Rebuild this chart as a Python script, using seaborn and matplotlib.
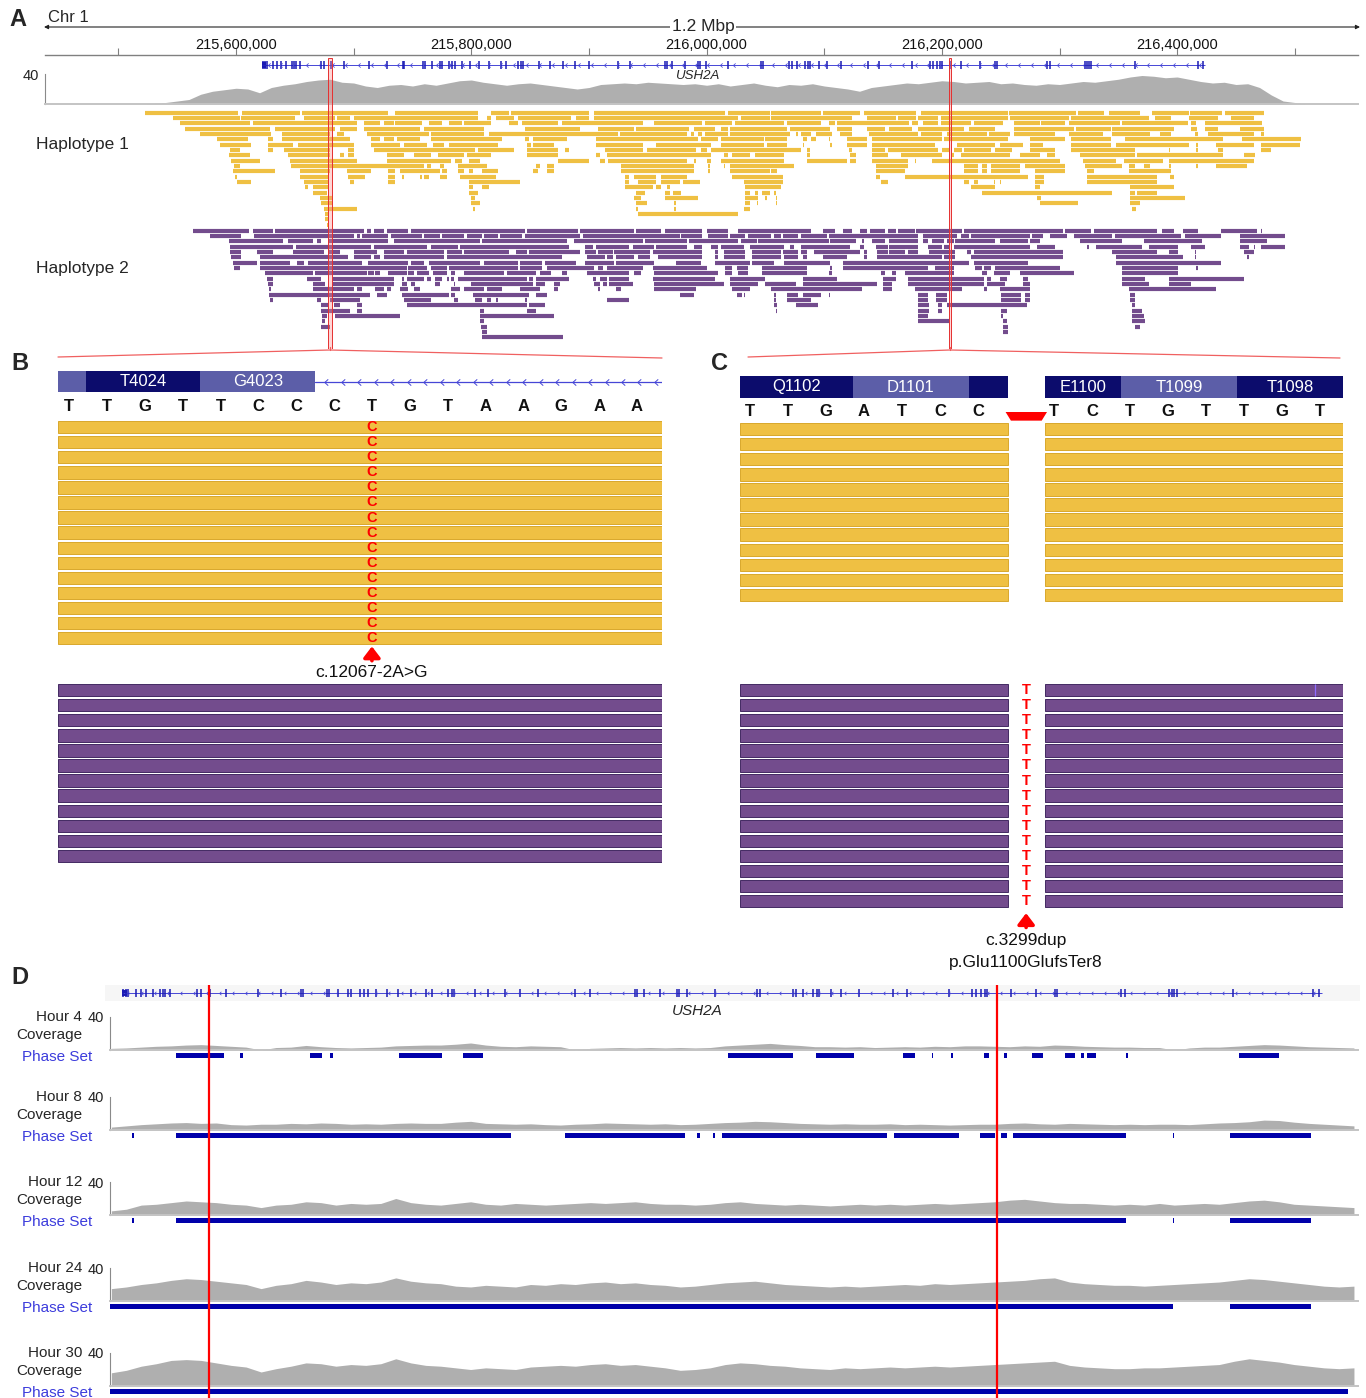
import numpy as np
import pandas as pd
import matplotlib
matplotlib.use("Agg")
import matplotlib.pyplot as plt
import seaborn as sns

sns.set_style("white")
plt.rcParams["font.family"] = ["Liberation Sans", "DejaVu Sans"]

# ---------------------------------------------------------------------------
# Genomic data: all positions are kb past chr1:215,000,000
# ---------------------------------------------------------------------------
ORIGIN_BP = 215_000_000
CHROM_LABEL = "Chr 1"
SPAN_LABEL = "1.2 Mbp"
GENE_NAME = "USH2A"

VIEW_A_KB = (437.6, 1553.7)
VIEW_D_KB = (614.1, 1447.7)
RULER_TICKS_KB = [500, 600, 700, 800, 900, 1000, 1100, 1200, 1300, 1400, 1500]
RULER_LABEL_KB = [600, 800, 1000, 1200, 1400]

GENE_KB = (622.1, 1423.6)
EXON_KB = [623.0, 624.7, 626.4, 631.5, 634.9, 638.3, 642.5, 647.6, 649.3, 651.0,
           654.4, 672.3, 674.8, 680.8, 691.8, 713.0, 728.4, 742.0, 742.8, 759.0,
           760.7, 766.6, 773.4, 775.1, 781.1, 783.6, 786.2, 792.1, 798.9, 806.6,
           815.0, 825.3, 829.5, 839.7, 842.3, 844.0, 857.6, 866.9, 878.0, 888.2,
           900.1, 924.7, 934.9, 964.7, 966.4, 970.6, 981.7, 992.7, 994.4, 999.5,
           1018.2, 1046.3, 1048.0, 1070.1, 1072.6, 1076.9, 1083.7, 1086.2, 1087.9,
           1095.6, 1102.4, 1114.3, 1137.2, 1146.6, 1174.6, 1189.9, 1192.5, 1195.9,
           1198.4, 1200.1, 1206.9, 1216.2, 1232.4, 1245.2, 1246.9, 1289.4, 1291.9,
           1321.7, 1323.4, 1325.1, 1326.8, 1364.2, 1417.7, 1421.9]

VARIANT_KB = [679.9, 1206.9]
ROI_KB = [(678.2, 681.6), (1206.1, 1207.8)]

# Read depth in panel A (10 kb bins)
COV_A_KB = list(range(500, 1520, 10))
COV_A = [0, 0, 0, 1, 2, 4, 6, 13, 17, 19,
         21, 20, 15, 22, 25, 27, 30, 32, 33, 29,
         28, 24, 22, 25, 26, 24, 27, 25, 28, 31,
         32, 29, 27, 25, 27, 28, 26, 24, 22, 20,
         22, 26, 27, 28, 27, 29, 28, 27, 26, 27,
         25, 27, 24, 26, 28, 25, 23, 26, 25, 27,
         24, 22, 20, 17, 22, 24, 26, 28, 27, 29,
         31, 30, 28, 29, 30, 27, 28, 26, 25, 27,
         26, 28, 30, 29, 31, 33, 36, 38, 37, 35,
         36, 33, 30, 28, 29, 26, 27, 22, 12, 4,
         2, 0]

# Haplotype-tagged reads, packed into rows: (start_kb, end_kb)
HAP1_READS = [
    [(523,602),(605,654),(656,729),(735,806),(817,832),(834,900),(904,1016),(1018,1054),(1055,1097),(1099,1130),(1134,1178),(1182,1256),(1257,1314),(1316,1338),(1342,1368),(1379,1410),(1411,1438),(1441,1474)],
    [(546,603),(604,650),(658,684),(686,697),(700,806),(813,817),(821,836),(840,885),(889,900),(904,1027),(1029,1054),(1055,1124),(1136,1161),(1163,1178),(1180,1197),(1199,1256),(1258,1308),(1310,1376),(1381,1395),(1410,1435),(1446,1465)],
    [(552,612),(614,703),(709,722),(726,734),(735,758),(764,775),(781,792),(794,817),(832,840),(843,874),(877,946),(955,996),(999,1022),(1024,1066),(1068,1097),(1104,1109),(1111,1172),(1175,1180),(1184,1197),(1199,1225),(1227,1252),(1261,1283),(1284,1305),(1308,1351),(1353,1409),(1412,1416),(1424,1472)],
    [(557,629),(633,684),(688,703),(709,756),(760,811),(846,892),(908,938),(940,985),(989,1007),(1012,1018),(1020,1068),(1071,1105),(1111,1124),(1136,1152),(1155,1175),(1180,1219),(1223,1245),(1261,1312),(1314,1344),(1345,1397),(1412,1417),(1424,1435),(1453,1474)],
    [(569,630),(639,680),(686,692),(711,764),(766,811),(815,925),(926,983),(987,989),(993,996),(999,1018),(1020,1071),(1076,1078),(1080,1089),(1093,1107),(1113,1124),(1138,1180),(1182,1200),(1204,1238),(1240,1258),(1261,1296),(1308,1337),(1345,1377),(1385,1395),(1415,1418),(1426,1465),(1471,1474)],
    [(584,610),(627,631),(639,697),(715,722),(726,734),(737,756),(766,826),(846,849),(852,881),(906,993),(995,1010),(1012,1049),(1050,1068),(1082,1085),(1089,1093),(1104,1105),(1119,1136),(1141,1200),(1202,1256),(1275,1305),(1310,1344),(1356,1439),(1455,1505)],
    [(586,613),(627,648),(653,700),(715,739),(743,762),(767,777),(781,823),(847,851),(852,870),(906,946),(957,1004),(1012,1049),(1051,1068),(1082,1083),(1105,1107),(1119,1136),(1141,1194),(1213,1245),(1249,1269),(1275,1286),(1310,1344),(1348,1410),(1416,1418),(1433,1465),(1471,1504)],
    [(595,603),(627,631),(641,680),(695,700),(717,803),(806,836),(847,874),(880,883),(914,946),(949,991),(995,1000),(1004,1080),(1085,1088),(1121,1124),(1141,1152),(1154,1197),(1200,1206),(1210,1217),(1219,1242),(1245,1260),(1275,1296),(1310,1364),(1393,1394),(1416,1418),(1435,1439),(1471,1480)],
    [(594,612),(644,680),(688,692),(695,700),(728,743),(751,766),(772,794),(796,817),(847,874),(906,909),(915,1004),(1015,1018),(1022,1037),(1041,1066),(1085,1088),(1122,1127),(1141,1154),(1165,1200),(1208,1210),(1216,1258),(1266,1283),(1289,1296),(1317,1364),(1366,1439),(1457,1466)],
    [(596,620),(646,703),(728,783),(786,792),(798,807),(874,900),(909,914),(916,983),(989,991),(1000,1004),(1012,1066),(1085,1119),(1122,1127),(1141,1171),(1177,1178),(1192,1300),(1320,1348),(1355,1388),(1393,1465)],
    [(598,603),(647,760),(762,766),(773,777),(789,813),(855,858),(864,870),(927,989),(1001,1003),(1015,1016),(1020,1074),(1144,1171),(1219,1231),(1234,1238),(1242,1266),(1271,1305),(1322,1353),(1359,1364),(1372,1377),(1393,1395),(1416,1418),(1433,1459)],
    [(597,633),(654,680),(694,715),(729,735),(739,773),(775,779),(789,794),(798,801),(809,823),(852,857),(864,870),(927,989),(1001,1003),(1020,1054),(1055,1060),(1144,1169),(1219,1231),(1234,1238),(1242,1266),(1279,1305),(1323,1329),(1359,1395)],
    [(599,601),(654,678),(695,710),(729,735),(741,743),(756,758),(760,764),(773,779),(790,821),(931,934),(938,957),(961,983),(1022,1065),(1144,1147),(1169,1273),(1279,1287),(1323,1383),(1394,1397)],
    [(601,613),(658,678),(697,700),(729,735),(798,841),(931,934),(942,957),(961,977),(980,994),(1032,1065),(1148,1154),(1219,1223),(1227,1231),(1244,1245),(1249,1250),(1279,1287),(1323,1383)],
    [(659,661),(665,678),(798,801),(809,815),(931,954),(957,961),(966,969),(1033,1063),(1225,1245),(1279,1283),(1360,1397)],
    [(665,677),(798,806),(940,948),(965,969),(971,978),(1033,1037),(1041,1044),(1047,1054),(1057,1059),(1234,1345),(1360,1364),(1366,1383)],
    [(671,682),(800,803),(938,944),(965,993),(1033,1044),(1050,1051),(1059,1060),(1281,1284),(1360,1407)],
    [(672,682),(800,807),(940,949),(972,974),(1033,1037),(1043,1044),(1059,1060),(1283,1316),(1360,1368)],
    [(675,703),(801,803),(940,942),(972,974),(1032,1037),(1362,1365)],
    [(676,678),(942,1027)],
    [(676,678)],
    [(677,678)],
]

HAP2_READS = [
    [(563,611),(614,631),(633,709),(711,715),(717,726),(728,746),(749,846),(847,891),(892,938),(940,961),(965,996),(1000,1018),(1027,1089),(1099,1109),(1116,1124),(1130,1136),(1139,1152),(1154,1161),(1163,1177),(1178,1217),(1219,1303),(1305,1327),(1329,1383),(1387,1397),(1405,1418),(1437,1468),(1471,1472)],
    [(578,604),(615,700),(703,705),(707,729),(732,758),(760,773),(775,794),(796,809),(811,823),(824,843),(846,892),(895,977),(978,996),(1001,1018),(1020,1033),(1035,1055),(1057,1063),(1065,1078),(1080,1102),(1104,1180),(1184,1213),(1216,1223),(1225,1275),(1277,1286),(1292,1306),(1312,1345),(1347,1403),(1407,1437),(1453,1492)],
    [(594,640),(644,665),(669,672),(678,729),(734,807),(809,881),(887,946),(948,983),(985,1027),(1029,1043),(1044,1104),(1105,1127),(1132,1134),(1141,1152),(1155,1180),(1184,1188),(1192,1202),(1204,1210),(1211,1245),(1249,1273),(1275,1283),(1317,1353),(1372,1421),(1453,1476)],
    [(595,648),(651,715),(717,762),(766,789),(790,883),(897,903),(906,934),(937,955),(957,983),(989,996),(1004,1010),(1012,1032),(1037,1066),(1071,1074),(1080,1122),(1130,1134),(1144,1154),(1155,1180),(1188,1200),(1202,1206),(1210,1275),(1281,1296),(1323,1325),(1331,1370),(1376,1401),(1412,1424),(1453,1461),(1465,1466),(1471,1492)],
    [(595,604),(618,631),(648,675),(678,688),(700,720),(726,743),(745,777),(779,792),(794,832),(838,847),(849,892),(897,906),(908,920),(921,952),(954,996),(1007,1010),(1015,1033),(1039,1063),(1065,1078),(1080,1085),(1091,1130),(1134,1136),(1145,1154),(1155,1169),(1171,1180),(1189,1211),(1221,1225),(1227,1303),(1345,1383),(1393,1401),(1415,1416),(1457,1465)],
    [(596,604),(620,695),(700,715),(717,722),(726,777),(779,877),(898,914),(915,920),(923,938),(942,952),(959,996),(1007,1010),(1015,1033),(1039,1063),(1066,1078),(1082,1085),(1099,1119),(1134,1136),(1145,1200),(1202,1211),(1225,1303),(1348,1405),(1415,1416),(1459,1461)],
    [(597,618),(620,646),(652,658),(661,707),(712,746),(749,760),(764,807),(811,840),(841,860),(863,889),(897,921),(923,955),(974,995),(1007,1037),(1039,1057),(1066,1105),(1116,1223),(1227,1273),(1348,1437)],
    [(598,603),(620,745),(746,762),(766,779),(781,840),(841,860),(864,904),(908,912),(915,946),(954,1000),(1016,1022),(1026,1035),(1047,1085),(1105,1107),(1116,1188),(1194,1210),(1228,1234),(1236,1242),(1245,1300),(1353,1401),(1416,1418)],
    [(625,665),(667,711),(712,717),(718,722),(729,745),(746,751),(754,764),(767,779),(783,786),(794,828),(830,855),(858,868),(877,881),(898,934),(938,944),(955,1010),(1016,1022),(1027,1035),(1047,1085),(1104,1107),(1148,1152),(1158,1161),(1169,1210),(1234,1238),(1244,1258),(1266,1312),(1353,1401)],
    [(626,631),(660,672),(682,734),(741,743),(745,760),(762,766),(769,775),(779,781),(783,785),(789,847),(849,852),(855,883),(903,906),(909,915),(917,934),(954,1007),(1020,1050),(1082,1111),(1150,1161),(1171,1236),(1238,1242),(1249,1255),(1269,1273),(1353,1373),(1393,1457)],
    [(627,631),(665,676),(682,734),(741,745),(749,752),(769,773),(785,786),(800,852),(855,863),(870,875),(904,909),(912,915),(917,937),(955,1015),(1020,1044),(1050,1076),(1082,1145),(1150,1158),(1171,1236),(1238,1254),(1269,1275),(1353,1376),(1393,1412)],
    [(628,630),(665,700),(703,707),(718,726),(728,732),(739,746),(751,756),(783,790),(794,811),(813,826),(841,858),(870,874),(908,909),(923,927),(955,991),(1022,1037),(1055,1132),(1150,1158),(1177,1217),(1236,1238),(1249,1275),(1359,1433)],
    [(628,714),(720,728),(741,781),(783,786),(801,849),(855,864),(977,989),(1026,1030),(1032,1033),(1057,1059),(1068,1078),(1082,1097),(1104,1105),(1180,1188),(1195,1204),(1250,1267),(1271,1275),(1360,1364)],
    [(629,631),(669,672),(680,705),(743,766),(785,789),(803,809),(813,817),(821,823),(846,847),(915,934),(1057,1059),(1068,1089),(1180,1188),(1195,1204),(1250,1267),(1271,1275),(1360,1364)],
    [(672,678),(683,688),(703,707),(745,847),(849,863),(1057,1060),(1076,1095),(1180,1189),(1197,1200),(1204,1272),(1362,1364)],
    [(672,697),(703,707),(807,811),(847,855),(1059,1060),(1180,1189),(1197,1200),(1250,1255),(1362,1370)],
    [(673,677),(684,739),(807,870),(1180,1188),(1250,1252),(1362,1372)],
    [(673,676),(807,811),(1180,1206),(1252,1255),(1362,1373)],
    [(672,680),(808,813),(1252,1256),(1364,1368)],
    [(809,813),(1252,1256)],
    [(809,878)],
]

# ---------------------------------------------------------------------------
# Panel B: splice-acceptor variant (base coordinates within the window)
# ---------------------------------------------------------------------------
B_VIEW = (-0.29, 15.66)
B_REF = "TTGTTCCCTGTAAGAA"
B_CODONS = [(-0.29, 0.45, "", "light"), (0.45, 3.47, "T4024", "dark"),
            (3.47, 6.50, "G4023", "light")]
B_INTRON = (6.50, 15.66)
B_HAP1_DEPTH = 15
B_HAP2_DEPTH = 12
B_ALT_BASE, B_ALT_POS = "C", 8
B_VARIANT_NAME = ["c.12067-2A>G"]

# ---------------------------------------------------------------------------
# Panel C: single-base duplication
# ---------------------------------------------------------------------------
C_VIEW = (-0.26, 15.61)
C_REF_LEFT = "TTGATCC"
C_REF_RIGHT = "TCTGTTGT"
C_LEFT_POS = list(range(0, 7))
C_RIGHT_POS = list(range(8, 16))
C_CODONS = [(-0.26, 2.72, "Q1102", "dark"), (2.72, 5.76, "D1101", "light"),
            (5.76, 6.79, "", "dark"), (7.76, 9.77, "E1100", "dark"),
            (9.77, 12.82, "T1099", "light"), (12.82, 15.61, "T1098", "dark")]
C_READ_SPANS = [(-0.26, 6.79), (7.76, 15.61)]
C_INS_SPAN = (6.79, 7.76)
C_HAP1_DEPTH = 12
C_HAP2_DEPTH = 15
C_INS_BASE, C_INS_POS = "T", 7.27
C_VARIANT_NAME = ["c.3299dup", "p.Glu1100GlufsTer8"]

# ---------------------------------------------------------------------------
# Panel D: coverage and phase blocks over a time course (10 kb bins)
# ---------------------------------------------------------------------------
HOURS = [4, 8, 12, 24, 30]
COV_D_KB = list(range(615, 1455, 10))
COV_H4 = [2, 2.5, 3.5, 4.5, 5, 6, 6.5, 5.5, 4.5, 3.5,
          0, 3, 3.5, 5.5, 4, 3, 2.5, 3, 3.5, 5,
          5.5, 6, 6, 7, 8.5, 6, 4.5, 4, 5, 4.5,
          4, 0, 2, 2.5, 3, 2.5, 3, 2.5, 3, 2.5,
          3, 5, 6, 7, 8, 6.5, 5.5, 4, 4, 3.5,
          4, 3, 3.5, 4, 3.5, 4.5, 4, 5, 5, 4.5,
          4, 5, 4.5, 6, 5.5, 4.5, 4, 3.5, 3.5, 3,
          3, 0, 2.5, 3.5, 3.5, 4.5, 5.5, 6.5, 6, 5,
          4, 3.5, 3, 2.5]
COV_H8 = [3.5, 5, 6.5, 7.5, 8.5, 9, 8, 8.5, 6.5, 6,
          7, 7, 8, 7.5, 8.5, 8, 7, 7.5, 7, 8,
          8.5, 8, 8, 9.5, 10.5, 8, 7.5, 7, 7.5, 6.5,
          6, 7, 7.5, 8.5, 8, 7.5, 7, 7.5, 6.5, 7,
          8, 9, 9.5, 10.5, 10, 9, 8, 7.5, 7, 7.5,
          7, 7, 7.5, 6.5, 7, 6.5, 6, 6.5, 7, 7,
          8, 8.5, 7.5, 7, 8, 7.5, 7, 6.5, 7, 6.5,
          7, 7, 6.5, 7.5, 8.5, 9, 10, 12, 11.5, 9.5,
          8, 7, 6, 5]
COV_H12 = [5, 7, 12, 13, 15, 17, 16, 15, 13, 12,
           9, 12, 13, 16, 15, 12, 14, 13, 14, 20,
           15, 13, 12, 14, 16, 13, 12, 14, 13, 12,
           13, 14, 15, 14, 15, 16, 14, 13, 13, 12,
           13, 15, 16, 14, 13, 12, 13, 12, 11, 12,
           13, 12, 13, 12, 13, 14, 13, 14, 15, 16,
           18, 19, 17, 15, 14, 14, 13, 12, 13, 12,
           14, 12, 13, 14, 13, 15, 17, 18, 16, 13,
           12, 11, 10, 9]
COV_H24 = [15, 17, 20, 22, 25, 27, 26, 24, 22, 20,
           15, 19, 21, 25, 23, 20, 22, 21, 23, 28,
           24, 22, 21, 18, 17, 19, 18, 17, 20, 19,
           21, 20, 22, 23, 21, 22, 20, 19, 17, 18,
           20, 22, 23, 24, 22, 20, 19, 18, 17, 18,
           17, 18, 19, 20, 19, 21, 20, 21, 22, 23,
           24, 25, 27, 28, 23, 21, 20, 19, 19, 18,
           19, 20, 21, 22, 23, 25, 27, 26, 24, 22,
           20, 18, 17, 18]
COV_H30 = [16, 19, 24, 27, 31, 32, 31, 28, 25, 23,
           17, 21, 24, 28, 27, 24, 26, 25, 27, 33,
           28, 25, 24, 22, 20, 22, 21, 20, 23, 24,
           25, 24, 26, 27, 25, 26, 24, 22, 19, 20,
           22, 26, 28, 27, 25, 24, 22, 21, 20, 22,
           21, 22, 23, 22, 23, 24, 23, 24, 25, 26,
           27, 28, 29, 30, 25, 23, 22, 21, 21, 22,
           22, 23, 24, 25, 26, 30, 33, 31, 29, 26,
           24, 22, 21, 22]

PHASE_H4 = [(658,690),(701,703),(748,756),(761,763),(807,836),(850,863),(1027,1070),
            (1086,1111),(1144,1152),(1163,1164),(1176,1177),(1198,1201),(1211,1213),
            (1230,1237),(1252,1259),(1263,1265),(1267,1273),(1293,1294),(1368,1395)]
PHASE_H8 = [(629,630),(658,882),(918,998),(1006,1008),(1017,1018),(1023,1133),
            (1138,1181),(1195,1205),(1209,1213),(1217,1293),(1324,1325),(1362,1416)]
PHASE_H12 = [(629,630),(658,1293),(1324,1325),(1362,1416)]
PHASE_H24 = [(614,1324),(1362,1416)]
PHASE_H30 = [(614,1441)]

# ---------------------------------------------------------------------------
# Styling
# ---------------------------------------------------------------------------
W, H = 1366, 1398
COV_GREY = "#afafaf"
HAP1_COLOR = "#efc043"
HAP1_EDGE = "#d9a82c"
HAP2_COLOR = "#734c8d"
HAP2_EDGE = "#432a62"
NAVY = "#0c0c6c"
NAVY_LIGHT = "#5c5ea8"
GENE_LINE = "#4646d6"
EXON_COLOR = "#1a1ab4"
PHASE_COLOR = "#0000aa"
PHASE_TEXT = "#3c3cdc"
ROI_RED = "#e53030"
CHEVRON = [(0.55, 1.0), (-0.55, 0.0), (0.55, -1.0)]

fig = plt.figure(figsize=(W / 100, H / 100), dpi=100)
fig.patch.set_facecolor("white")


def px_axes(x0, y0, x1, y1):
    ax = fig.add_axes([x0 / W, 1 - y1 / H, (x1 - x0) / W, (y1 - y0) / H])
    ax.set_facecolor("none")
    return ax


def bare(ax):
    for s in ax.spines.values():
        s.set_visible(False)
    ax.set_xticks([])
    ax.set_yticks([])


def gene_track(ax, view, chevron_step, exon_half=0.65, chevron_size=3.0):
    ax.set_xlim(view)
    ax.set_ylim(-1, 1)
    bare(ax)
    ax.plot(GENE_KB, [0, 0], color=GENE_LINE, lw=0.7, solid_capstyle="butt")
    ax.vlines(EXON_KB, -exon_half, exon_half, color=EXON_COLOR, lw=1.1)
    ax.fill_between([GENE_KB[0], GENE_KB[0] + 3.5], -exon_half * 0.7, exon_half * 0.7,
                    color=EXON_COLOR, lw=0)
    xs = np.arange(GENE_KB[0] + chevron_step * 0.5, GENE_KB[1], chevron_step)
    ax.plot(xs, np.zeros_like(xs), ls="none", marker=CHEVRON, ms=chevron_size,
            mfc="none", mec=GENE_LINE, mew=0.55)


def coverage_track(ax, pos, vals, view):
    pos = np.asarray(pos, dtype=float)
    step = pos[1] - pos[0]
    edges = np.append(pos - step / 2, pos[-1] + step / 2).tolist()
    depth = pd.DataFrame({"position": pos, "depth": np.asarray(vals, dtype=float)})
    sns.histplot(data=depth, x="position", weights="depth", bins=edges,
                 element="poly", fill=True, color=COV_GREY, alpha=1,
                 linewidth=0, ax=ax)
    ax.set_xlim(view)
    ax.set_ylim(0, 40)
    ax.set_xlabel("")
    ax.set_ylabel("")
    for side in ("top", "right"):
        ax.spines[side].set_visible(False)
    ax.spines["left"].set_color("#8a8a8a")
    ax.spines["left"].set_linewidth(0.8)
    ax.spines["bottom"].set_color("#c4c4c4")
    ax.spines["bottom"].set_linewidth(1.4)
    ax.set_xticks([])
    ax.set_yticks([40])
    ax.set_yticklabels(["40"])
    ax.tick_params(axis="y", length=3, width=0.8, color="#8a8a8a", pad=1,
                   labelsize=10.5, labelcolor="#222222")


def read_rows(ax, rows, color, lw):
    for i, row in enumerate(rows):
        starts = [s for s, _ in row]
        ends = [e for _, e in row]
        ax.hlines([i + 0.5] * len(row), starts, ends, colors=color, lw=lw,
                  capstyle="butt")


def codon_track(ax, view, codons):
    ax.set_xlim(view)
    ax.set_ylim(0, 1)
    bare(ax)
    for s, e, label, tone in codons:
        ax.bar(s, 1, width=e - s, bottom=0, align="edge", lw=0,
               color=NAVY if tone == "dark" else NAVY_LIGHT)
        if label:
            ax.text((s + e) / 2, 0.5, label, color="white", ha="center",
                    va="center", fontsize=12)


def pileup(ax, view, depth, spans, color, edge):
    ax.set_xlim(view)
    ax.set_ylim(depth, 0)
    bare(ax)
    rows = np.arange(depth) + 0.5
    for s, e in spans:
        ax.barh(rows, e - s, left=s, height=0.82, color=color, edgecolor=edge,
                lw=0.7)


def variant_arrow(ax, x, tip, tail):
    ax.annotate("", xy=(x, tip), xytext=(x, tail),
                arrowprops=dict(arrowstyle="-|>,head_length=0.55,head_width=0.42",
                                color="#ff0000", lw=2.6, mutation_scale=12,
                                shrinkA=0, shrinkB=0),
                annotation_clip=False)


# ---------------------------------------------------------------------------
# Panel A
# ---------------------------------------------------------------------------
ax_r = px_axes(45, 53, 1358, 55)
ax_r.set_xlim(VIEW_A_KB)
ax_r.set_ylim(0, 1)
for side in ("top", "left", "right"):
    ax_r.spines[side].set_visible(False)
ax_r.spines["bottom"].set_color("#808080")
ax_r.spines["bottom"].set_linewidth(1.0)
ax_r.set_yticks([])
ax_r.set_xticks(RULER_TICKS_KB)
ax_r.set_xticklabels([f"{ORIGIN_BP + int(k * 1000):,}" if k in RULER_LABEL_KB else ""
                      for k in RULER_TICKS_KB])
ax_r.tick_params(axis="x", direction="in", length=5, width=0.8, color="#808080",
                 bottom=True, top=False, labelbottom=False, labeltop=True,
                 pad=1, labelsize=10.5, labelcolor="#111111")

ax_ga = px_axes(45, 59, 1358, 71)
gene_track(ax_ga, VIEW_A_KB, 11.0)

ax_ca = px_axes(45, 74, 1358, 104)
coverage_track(ax_ca, COV_A_KB, COV_A, VIEW_A_KB)

ROW_PX = 5.33
ax_h1 = px_axes(45, 110, 1358, 110 + len(HAP1_READS) * ROW_PX)
ax_h1.set_xlim(VIEW_A_KB)
ax_h1.set_ylim(len(HAP1_READS), 0)
bare(ax_h1)
read_rows(ax_h1, HAP1_READS, HAP1_COLOR, 3.0)

ax_h2 = px_axes(45, 228, 1358, 228 + len(HAP2_READS) * ROW_PX)
ax_h2.set_xlim(VIEW_A_KB)
ax_h2.set_ylim(len(HAP2_READS), 0)
bare(ax_h2)
read_rows(ax_h2, HAP2_READS, HAP2_COLOR, 3.0)

ax_roi = px_axes(45, 58, 1358, 349)
ax_roi.set_xlim(VIEW_A_KB)
ax_roi.set_ylim(0, 1)
bare(ax_roi)
for s, e in ROI_KB:
    ax_roi.axvspan(s, e, facecolor=(1.0, 0.55, 0.55, 0.35), edgecolor=ROI_RED, lw=0.7)

# ---------------------------------------------------------------------------
# Panel B
# ---------------------------------------------------------------------------
ax_bp = px_axes(58, 371, 662, 392)
codon_track(ax_bp, B_VIEW, B_CODONS)
ax_bp.plot(B_INTRON, [0.5, 0.5], color=GENE_LINE, lw=0.9)
xs = np.arange(B_INTRON[0] + 0.3, B_INTRON[1], 0.435)
ax_bp.plot(xs, np.full_like(xs, 0.5), ls="none", marker=CHEVRON, ms=4.5,
           mfc="none", mec=GENE_LINE, mew=0.7)

ax_bs = px_axes(58, 397, 662, 416)
ax_bs.set_xlim(B_VIEW)
ax_bs.set_ylim(0, 1)
bare(ax_bs)
for i, base in enumerate(B_REF):
    ax_bs.text(i, 0.5, base, ha="center", va="center", fontsize=12,
               fontweight="bold", color="#111111")

ax_b1 = px_axes(58, 419.6, 662, 419.6 + B_HAP1_DEPTH * 15.07)
pileup(ax_b1, B_VIEW, B_HAP1_DEPTH, [B_VIEW], HAP1_COLOR, HAP1_EDGE)
for i in range(B_HAP1_DEPTH):
    ax_b1.text(B_ALT_POS, i + 0.5, B_ALT_BASE, color="#ff0000", ha="center",
               va="center", fontsize=10.5, fontweight="bold")
variant_arrow(ax_b1, B_ALT_POS, B_HAP1_DEPTH + 0.05, B_HAP1_DEPTH + 1.0)
ax_b1.text(B_ALT_POS, B_HAP1_DEPTH + 1.75, B_VARIANT_NAME[0], ha="center", va="center",
           fontsize=12.5, color="#111111", clip_on=False)

ax_b2 = px_axes(58, 682.6, 662, 682.6 + B_HAP2_DEPTH * 15.07)
pileup(ax_b2, B_VIEW, B_HAP2_DEPTH, [B_VIEW], HAP2_COLOR, HAP2_EDGE)

# ---------------------------------------------------------------------------
# Panel C
# ---------------------------------------------------------------------------
ax_cp = px_axes(740, 376, 1343, 398)
codon_track(ax_cp, C_VIEW, C_CODONS)

ax_cs = px_axes(740, 403, 1343, 421)
ax_cs.set_xlim(C_VIEW)
ax_cs.set_ylim(0, 1)
bare(ax_cs)
for p, base in zip(C_LEFT_POS + C_RIGHT_POS, C_REF_LEFT + C_REF_RIGHT):
    ax_cs.text(p, 0.5, base, ha="center", va="center", fontsize=12,
               fontweight="bold", color="#111111")
s, e = C_INS_SPAN
ax_cs.fill([s - 0.06, e + 0.06, e - 0.08, s + 0.08], [0.5, 0.5, 0.02, 0.02],
           color="#ff0000", lw=0)

ax_c1 = px_axes(740, 421.6, 1343, 421.6 + C_HAP1_DEPTH * 15.07)
pileup(ax_c1, C_VIEW, C_HAP1_DEPTH, C_READ_SPANS, HAP1_COLOR, HAP1_EDGE)

ax_c2 = px_axes(740, 682.6, 1343, 682.6 + C_HAP2_DEPTH * 15.07)
pileup(ax_c2, C_VIEW, C_HAP2_DEPTH, C_READ_SPANS, HAP2_COLOR, HAP2_EDGE)
for i in range(C_HAP2_DEPTH):
    ax_c2.text(C_INS_POS, i + 0.5, C_INS_BASE, color="#ff0000", ha="center",
               va="center", fontsize=10.5, fontweight="bold")
ax_c2.vlines(14.87, 0.1, 0.9, color="#8f6cff", lw=0.9)
variant_arrow(ax_c2, C_INS_POS, C_HAP2_DEPTH + 0.3, C_HAP2_DEPTH + 1.25)
ax_c2.text(C_INS_POS, C_HAP2_DEPTH + 2.1, C_VARIANT_NAME[0], ha="center", va="center",
           fontsize=12.5, color="#111111", clip_on=False)
ax_c2.text(C_INS_POS, C_HAP2_DEPTH + 3.55, C_VARIANT_NAME[1], ha="center", va="center",
           fontsize=12.5, color="#111111", clip_on=False)

# ---------------------------------------------------------------------------
# Panel D
# ---------------------------------------------------------------------------
D_PX = (110, 1358)
kb_per_px = (VIEW_D_KB[1] - VIEW_D_KB[0]) / (D_PX[1] - D_PX[0])
ax_dg = px_axes(105, 985, 1360, 1001)
gene_view_d = (VIEW_D_KB[0] - 5 * kb_per_px, VIEW_D_KB[1] + 2 * kb_per_px)
ax_dg.set_facecolor("#f6f6f6")
gene_track(ax_dg, gene_view_d, 8.7, exon_half=0.45, chevron_size=2.4)

cov_tracks = [COV_H4, COV_H8, COV_H12, COV_H24, COV_H30]
phase_tracks = [PHASE_H4, PHASE_H8, PHASE_H12, PHASE_H24, PHASE_H30]
track_tops = [1017, 1097, 1182, 1268, 1353]

ov = px_axes(0, 0, W, H)
ov.set_xlim(0, W)
ov.set_ylim(H, 0)
bare(ov)

for hour, cov, phase, top in zip(HOURS, cov_tracks, phase_tracks, track_tops):
    ax = px_axes(D_PX[0], top, D_PX[1], top + 33)
    coverage_track(ax, COV_D_KB, cov, VIEW_D_KB)
    axp = px_axes(D_PX[0], top + 35.5, D_PX[1], top + 40.5)
    axp.set_xlim(VIEW_D_KB)
    axp.set_ylim(0, 1)
    bare(axp)
    axp.barh([0.5] * len(phase), [e - s for s, e in phase], left=[s for s, _ in phase],
             height=1.0, color=PHASE_COLOR, lw=0)
    ov.text(82, top, f"Hour {hour}", ha="right", va="center", fontsize=11)
    ov.text(82, top + 18, "Coverage", ha="right", va="center", fontsize=11)
    ov.text(92, top + 40, "Phase Set", ha="right", va="center", fontsize=11,
            color=PHASE_TEXT)

ax_dr = px_axes(D_PX[0], 985, D_PX[1], 1398)
ax_dr.set_xlim(VIEW_D_KB)
ax_dr.set_ylim(0, 1)
bare(ax_dr)
for v in VARIANT_KB:
    ax_dr.axvline(v, color="#ff0000", lw=1.6)

# ---------------------------------------------------------------------------
# Labels, span bar and zoom connectors
# ---------------------------------------------------------------------------
ov.set_zorder(10)
ov.text(18, 20, "A", fontsize=17, fontweight="bold", ha="center", va="center")
ov.text(20, 363, "B", fontsize=17, fontweight="bold", ha="center", va="center")
ov.text(720, 363, "C", fontsize=17, fontweight="bold", ha="center", va="center")
ov.text(20, 978, "D", fontsize=17, fontweight="bold", ha="center", va="center")

ov.text(48, 18, CHROM_LABEL, fontsize=12, ha="left", va="center")
ov.annotate("", xy=(44, 27), xytext=(1360, 27),
            arrowprops=dict(arrowstyle="<|-|>", color="#222222", lw=0.8,
                            mutation_scale=6, shrinkA=0, shrinkB=0))
ov.text(703, 27, SPAN_LABEL, fontsize=12.5, ha="center", va="center",
        bbox=dict(facecolor="white", edgecolor="none", pad=1.0))

ov.text(697, 76, GENE_NAME, fontsize=9.5, style="italic", ha="center", va="center")
ov.text(697, 1011, GENE_NAME, fontsize=11, style="italic", ha="center", va="center")
ov.text(82, 144, "Haplotype 1", fontsize=12.5, ha="center", va="center")
ov.text(82, 268, "Haplotype 2", fontsize=12.5, ha="center", va="center")

fig.canvas.draw()
for v, (left, right) in zip(VARIANT_KB, [(58, 662), (748, 1340)]):
    x = ax_roi.transData.transform((v, 0))[0]
    ov.plot([x, x], [347, 350], color="#f06060", lw=0.9)
    ov.plot([left, x, right], [357, 350, 358], color="#f06060", lw=0.9)

fig.savefig("out.png", dpi=100)
